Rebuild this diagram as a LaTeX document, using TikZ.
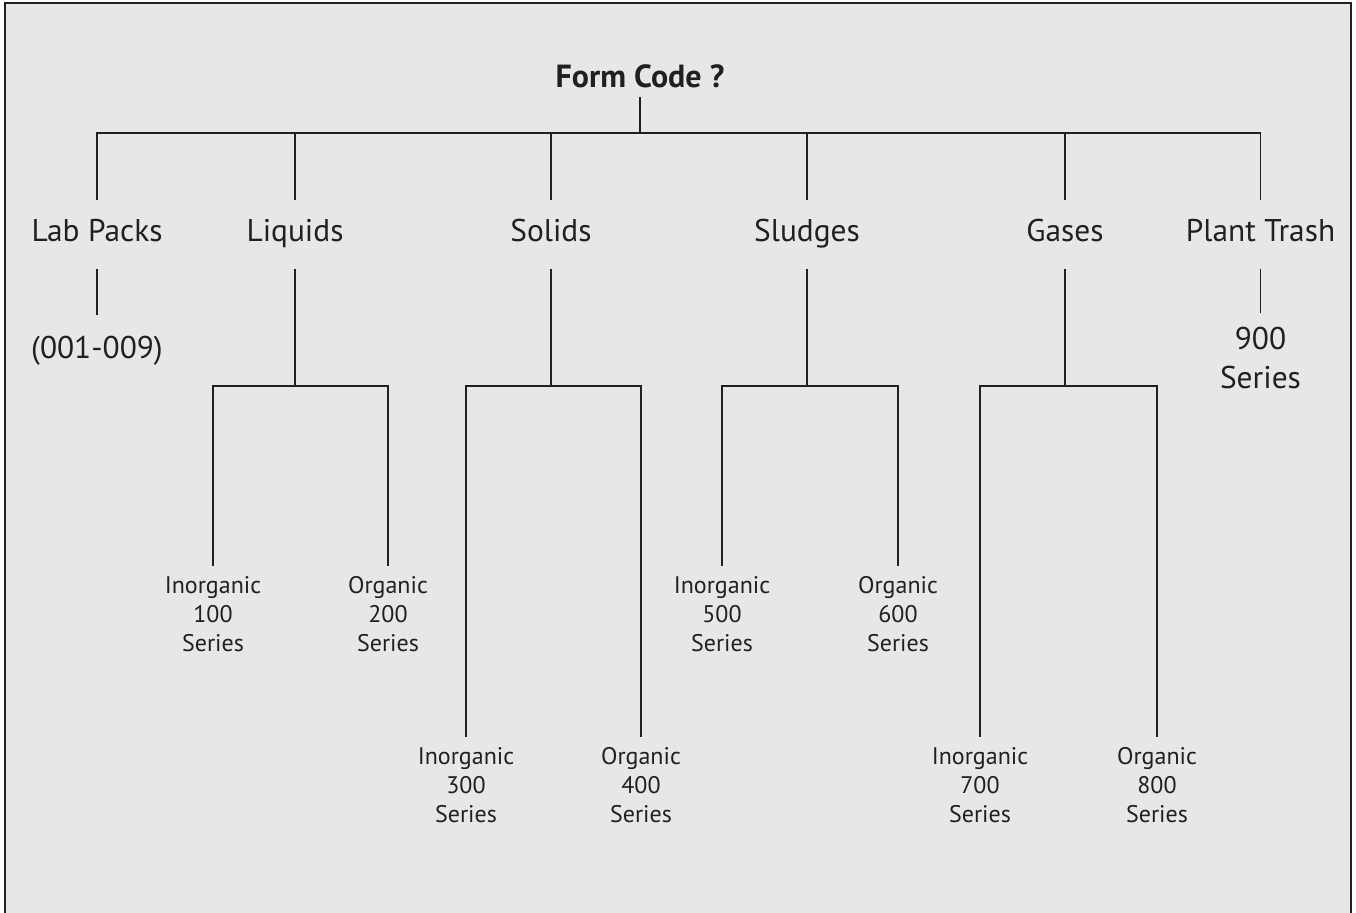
\documentclass[tikz,border=0pt]{standalone}
\usepackage{fontspec}
\setmainfont{PT Sans}
\definecolor{ink}{HTML}{231F20}
\definecolor{paper}{HTML}{E6E7E8}
\begin{document}
\begin{tikzpicture}[x=0.5pt,y=-0.5pt,line width=0.75pt,ink,
  form/.style={anchor=base,font=\fontsize{16}{18}\selectfont\bfseries,text depth=0pt,inner ysep=4.7pt},
  kind/.style={anchor=base,font=\fontsize{15.7}{19}\selectfont,text height=11pt,text depth=3.8pt,inner ysep=9.35pt},
  code/.style={anchor=north,align=center,font=\fontsize{15.7}{19.5}\selectfont,inner ysep=9pt},
  series/.style={anchor=north,align=center,font=\fontsize{12}{14.5}\selectfont,inner ysep=5pt}]
\def\ybar{133}
\def\ysub{386}
\def\yhi{566}
\def\ylo{737}

\useasboundingbox (0,0) rectangle (1356,913);
\filldraw[fill=paper,draw=ink] (5,3) rectangle (1351,940);

\node[form] (F) at (640,87.3) {Form Code ?};
\coordinate (Fj) at (F.south|-0,\ybar);

\node[kind] (LP) at (97,241.7) {Lab Packs};
\node[kind] (LQ) at (295,241.7) {Liquids};
\node[kind] (SO) at (551,241.7) {Solids};
\node[kind] (SL) at (807,241.7) {Sludges};
\node[kind] (GA) at (1065,241.7) {Gases};
\node[kind] (PT) at (1260.5,241.7) {Plant Trash};

\node[code,inner ysep=10pt] (LPc) at (97,315) {(001-009)};
\node[code,inner ysep=6.5pt] (PTc) at (1260.5,313) {900\\Series};

\node[series] (LQi) at (213,\yhi) {Inorganic\\100\\Series};
\node[series] (LQo) at (388,\yhi) {Organic\\200\\Series};
\node[series] (SOi) at (466,\ylo) {Inorganic\\300\\Series};
\node[series] (SOo) at (641,\ylo) {Organic\\400\\Series};
\node[series] (SLi) at (722,\yhi) {Inorganic\\500\\Series};
\node[series] (SLo) at (898,\yhi) {Organic\\600\\Series};
\node[series] (GAi) at (980,\ylo) {Inorganic\\700\\Series};
\node[series] (GAo) at (1157,\ylo) {Organic\\800\\Series};

\draw (F.south) -- (Fj);
\draw (LP.north) -- (LP.north|-Fj) -- (PT.north|-Fj) -- (PT.north);
\foreach \n in {LQ,SO,SL,GA}
  \draw (\n.north) -- (\n.north|-Fj);

\draw (LP.south) -- (LPc.north);
\draw (PT.south) -- (PTc.north);

\foreach \n in {LQ,SO,SL,GA}{
  \coordinate (\n j) at (\n.south|-0,\ysub);
  \draw (\n.south) -- (\n j);
  \draw (\n i.north) -- (\n i.north|-\n j) -- (\n o.north|-\n j) -- (\n o.north);
}
\end{tikzpicture}
\end{document}
